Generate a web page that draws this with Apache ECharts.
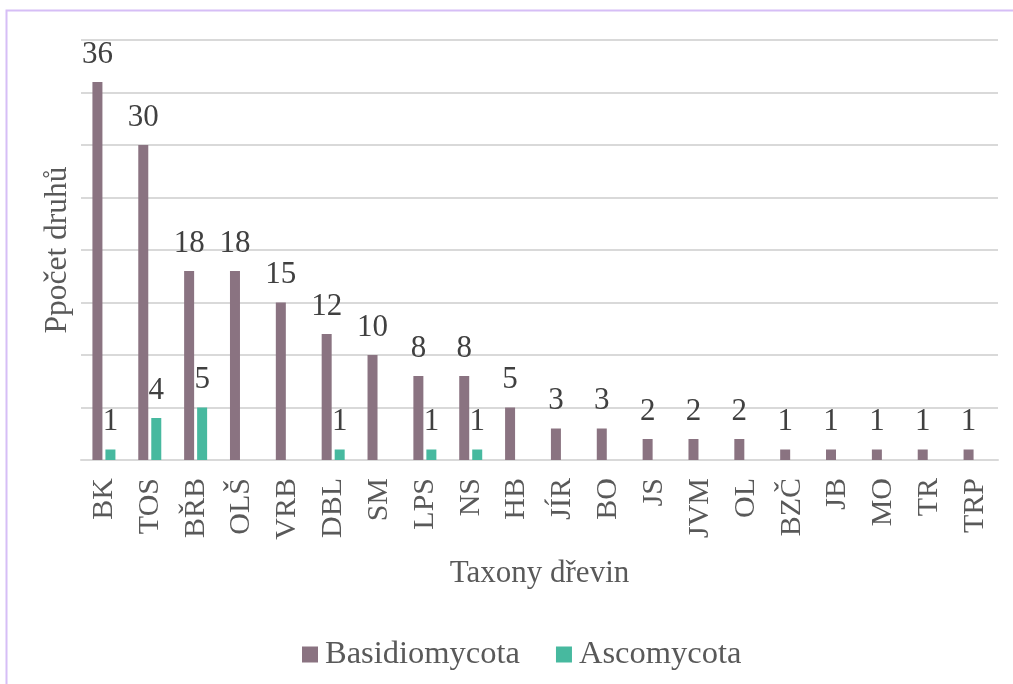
<!DOCTYPE html>
<html>
<head>
<meta charset="utf-8">
<script src="https://cdn.jsdelivr.net/npm/echarts@6/dist/echarts.min.js"></script>
<style>
html,body{margin:0;padding:0;background:#fff;}
#chart{width:1013px;height:684px;}
</style>
</head>
<body>
<div id="chart"></div>
<script>
const categories = ['BK','TOS','BŘB','OLŠ','VRB','DBL','SM','LPS','NS','HB','JÍR','BO','JS','JVM','OL','BZČ','JB','MO','TR','TRP'];
const basidiomycota = [36,30,18,18,15,12,10,8,8,5,3,3,2,2,2,1,1,1,1,1];
const ascomycota = [1,4,5,null,null,1,null,1,1,null,null,null,null,null,null,null,null,null,null,null];
const yTicks = {min:0, max:40, interval:5};

const FONT = 'Liberation Serif';
const chart = echarts.init(document.getElementById('chart'));
chart.setOption({
  animation:false,
  backgroundColor:'#ffffff',
  graphic:[{
    type:'rect',
    shape:{x:6.5,y:10.5,width:2000,height:2000},
    style:{fill:'none',stroke:'#d6bef6',lineWidth:2},
    silent:true
  }],
  grid:{left:81,right:15,top:40,bottom:224},
  legend:{
    top:633,left:297,
    itemWidth:16,itemHeight:16,itemGap:36,
    icon:'rect',
    textStyle:{fontFamily:FONT,fontSize:32.5,color:'#595959',padding:[0,0,0,2]},
    data:['Basidiomycota','Ascomycota']
  },
  xAxis:{
    type:'category',
    data:categories,
    axisLine:{lineStyle:{color:'#d9d9d9',width:2}},
    axisTick:{show:false},
    axisLabel:{rotate:90,margin:18,fontFamily:FONT,fontSize:30,color:'#595959',interval:0},
    name:'Taxony dřevin',
    nameLocation:'middle',
    nameGap:98,
    nameTextStyle:{fontFamily:FONT,fontSize:31,color:'#595959'}
  },
  yAxis:{
    type:'value',
    min:yTicks.min,max:yTicks.max,interval:yTicks.interval,
    axisLabel:{show:false},
    axisLine:{show:false},
    axisTick:{show:false},
    splitLine:{lineStyle:{color:'#d9d9d9',width:2}},
    name:'Ppočet druhů',
    nameLocation:'middle',
    nameGap:7,
    nameTextStyle:{fontFamily:FONT,fontSize:31.5,color:'#595959'}
  },
  series:[
    {
      name:'Basidiomycota',type:'bar',data:basidiomycota,
      barWidth:10,barGap:'30%',
      itemStyle:{color:'#8a7381'},
      label:{show:true,position:'top',distance:12,fontFamily:FONT,fontSize:31,color:'#404040'}
    },
    {
      name:'Ascomycota',type:'bar',data:ascomycota,
      barWidth:10,
      itemStyle:{color:'#47b99f'},
      label:{show:true,position:'top',distance:12,fontFamily:FONT,fontSize:31,color:'#404040'}
    }
  ]
});
</script>
</body>
</html>
